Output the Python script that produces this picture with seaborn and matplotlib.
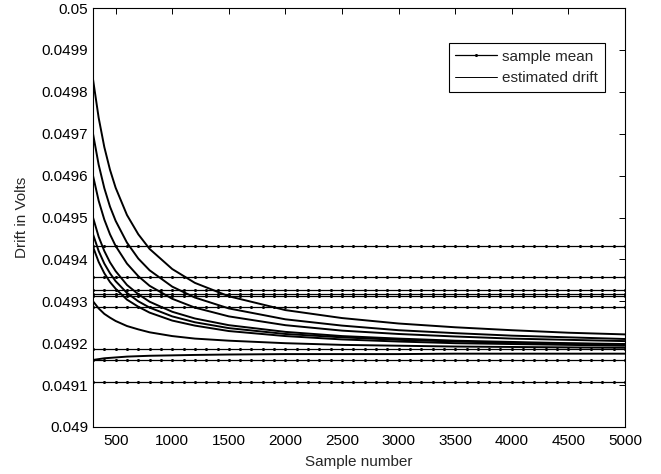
import matplotlib
matplotlib.use("Agg")
import matplotlib.pyplot as plt
import seaborn as sns
import pandas as pd
import numpy as np
from matplotlib.lines import Line2D

# ---- data ----
sample_positions = list(range(300, 5001, 100))  # sample numbers where the means are marked

sample_means = [0.049433, 0.049357, 0.049327, 0.049318, 0.049312,
                0.049287, 0.049185, 0.049160, 0.049107]

curve_n = [300, 350, 400, 450, 500, 600, 700, 800, 1000, 1200, 1500,
           2000, 2500, 3000, 3500, 4000, 4500, 5000]

# estimated drift curves, in microvolts above 0.049 V
drift_A = [830, 738, 668, 614, 571, 506, 460, 425, 377, 344, 312, 279, 260, 247, 238, 231, 225, 221]
drift_B = [700, 626, 570, 526, 492, 440, 402, 374, 335, 309, 283, 257, 242, 231, 224, 218, 214, 210]
drift_C = [600, 540, 495, 460, 432, 390, 360, 337, 306, 285, 264, 243, 230, 222, 216, 211, 208, 205]
drift_D = [500, 454, 420, 393, 372, 339, 317, 299, 275, 259, 243, 227, 217, 211, 206, 203, 200, 198]
drift_E = [460, 420, 390, 367, 348, 320, 300, 285, 264, 250, 236, 222, 214, 208, 204, 201, 199, 197]
drift_F = [430, 394, 367, 346, 330, 304, 287, 273, 254, 242, 229, 217, 209, 204, 200, 198, 196, 194]
drift_G = [300, 283, 270, 261, 253, 241, 233, 226, 217, 211, 206, 200, 196, 194, 192, 191, 190, 189]
drift_H = [160, 162, 164, 165, 166, 168, 169, 170, 171, 172, 173, 174, 174, 174, 175, 175, 175, 175]
drift_curves = [drift_A, drift_B, drift_C, drift_D, drift_E, drift_F, drift_G, drift_H]

x_ticks = [500, 1000, 1500, 2000, 2500, 3000, 3500, 4000, 4500, 5000]
y_ticks = [0.049, 0.0491, 0.0492, 0.0493, 0.0494, 0.0495, 0.0496, 0.0497, 0.0498, 0.0499, 0.05]
y_tick_labels = ["0.049", "0.0491", "0.0492", "0.0493", "0.0494", "0.0495",
                 "0.0496", "0.0497", "0.0498", "0.0499", "0.05"]

FS = 11

# ---- figure ----
sns.set_style("white")
plt.rcParams['font.family'] = ['Liberation Sans', 'DejaVu Sans']
plt.rcParams['font.size'] = FS

fig = plt.figure(figsize=(6.61, 4.74), dpi=100)
ax = fig.add_axes([93/661, 1 - 427/474, (625 - 93)/661, (427 - 8)/474])

mean_rows = []
for i, m in enumerate(sample_means):
    for n in sample_positions:
        mean_rows.append({"n": n, "v": m, "id": i})
mean_df = pd.DataFrame(mean_rows)

curve_rows = []
for i, c in enumerate(drift_curves):
    for n, v in zip(curve_n, c):
        curve_rows.append({"n": n, "v": 0.049 + v * 1e-6, "id": i})
curve_df = pd.DataFrame(curve_rows)

sns.lineplot(data=mean_df, x="n", y="v", units="id", estimator=None,
             color="black", lw=0.9, marker="o", markersize=2.2,
             markeredgewidth=0, ax=ax, legend=False, sort=True)
sns.lineplot(data=curve_df, x="n", y="v", units="id", estimator=None,
             color="black", lw=1.4, ax=ax, legend=False, sort=True)

ax.set_xlim(300, 5000)
ax.set_ylim(0.049, 0.05)
ax.set_xticks(x_ticks)
ax.set_xticklabels([str(t) for t in x_ticks])
ax.set_yticks(y_ticks)
ax.set_yticklabels(y_tick_labels)
ax.tick_params(axis="x", pad=5)
ax.tick_params(direction="in", top=True, right=True, length=4.5, width=0.7,
               labelsize=FS, colors="black")
for s in ax.spines.values():
    s.set_visible(True)
    s.set_color("black")
    s.set_linewidth(0.8)

ax.set_xlabel("Sample number", fontsize=FS, labelpad=5)
ax.set_ylabel("Drift in Volts", fontsize=FS, labelpad=9)

handles = [Line2D([], [], color="black", lw=0.9, marker="o", markersize=2.2,
                  markeredgewidth=0),
           Line2D([], [], color="black", lw=0.7)]
leg = ax.legend(handles, ["sample mean", "estimated drift"],
                loc="upper right", bbox_to_anchor=(0.962, 0.917),
                fancybox=False, framealpha=1, edgecolor="black",
                fontsize=FS, handlelength=2.7, borderpad=0.45,
                labelspacing=0.5, handletextpad=0.35, borderaxespad=0)
leg.get_frame().set_linewidth(0.8)

fig.savefig("out.png", dpi=100)
